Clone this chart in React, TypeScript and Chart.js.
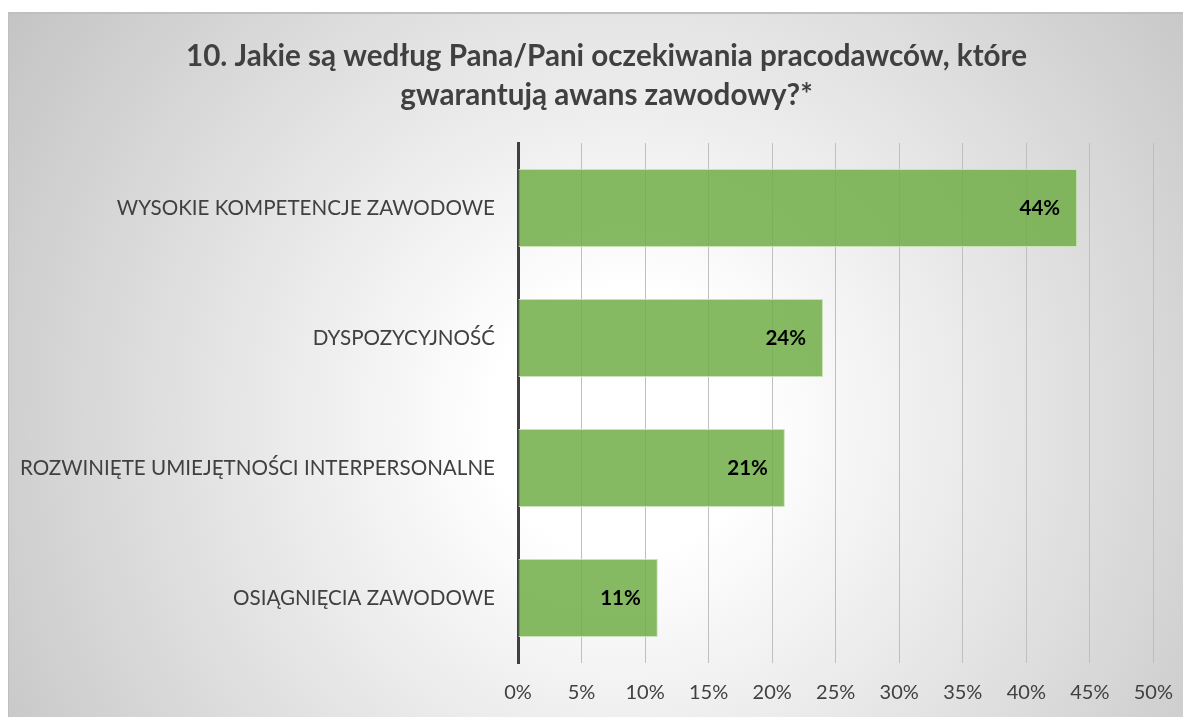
import React, { useEffect, useRef } from "react";
import { Chart, registerables } from "chart.js";

Chart.register(...registerables);

const categories = [
  "WYSOKIE KOMPETENCJE ZAWODOWE",
  "DYSPOZYCYJNOŚĆ",
  "ROZWINIĘTE UMIEJĘTNOŚCI INTERPERSONALNE",
  "OSIĄGNIĘCIA ZAWODOWE",
];
const values = [44, 24, 21, 11];
const titleLines = [
  "10. Jakie są według Pana/Pani oczekiwania pracodawców, które",
  "gwarantują awans zawodowy?*",
];
const xMin = 0;
const xMax = 50;
const xStep = 5;

const FONT = "Lato, 'Open Sans', sans-serif";

const titlePlugin = {
  id: "customTitle",
  afterDraw(chart: any) {
    const ctx = chart.ctx;
    ctx.save();
    ctx.font = `bold 29.6px ${FONT}`;
    ctx.fillStyle = "#404040";
    ctx.textAlign = "center";
    ctx.textBaseline = "middle";
    const cx = chart.width / 2 + 7;
    titleLines.forEach((line, i) => {
      ctx.fillText(line, cx, 44 + i * 39);
    });
    ctx.restore();
  },
};

const labelPlugin = {
  id: "barLabels",
  afterDatasetsDraw(chart: any) {
    const ctx = chart.ctx;
    const meta = chart.getDatasetMeta(0);
    ctx.save();
    ctx.font = `bold 20.5px ${FONT}`;
    ctx.fillStyle = "#000000";
    ctx.textAlign = "right";
    ctx.textBaseline = "middle";
    meta.data.forEach((bar: any, i: number) => {
      ctx.fillText(`${values[i]}%`, bar.x - 17, bar.y);
    });
    ctx.restore();
  },
};

export default function App() {
  const ref = useRef<HTMLCanvasElement | null>(null);
  useEffect(() => {
    if (!ref.current) return;
    const chart = new Chart(ref.current, {
      type: "bar",
      data: {
        labels: categories,
        datasets: [
          {
            data: values,
            backgroundColor: "rgba(112,173,71,0.85)",
            borderColor: "#c9e2b8",
            borderWidth: 1,
            barPercentage: 0.6,
            categoryPercentage: 1,
          },
        ],
      },
      options: {
        indexAxis: "y",
        animation: false,
        responsive: false,
        layout: { padding: { top: 131, bottom: 13, right: 35, left: 0 } },
        plugins: {
          legend: { display: false },
          tooltip: { enabled: false },
          title: { display: false },
        },
        scales: {
          x: {
            min: xMin,
            max: xMax,
            ticks: {
              stepSize: xStep,
              callback: (v: any) => `${v}%`,
              color: "#404040",
              font: { family: FONT, size: 20 },
              padding: 18,
            },
            grid: { color: "#bfbfbf", lineWidth: 1, drawTicks: false },
            border: { display: false },
          },
          y: {
            ticks: {
              color: "#404040",
              font: { family: FONT, size: 20.6 },
              padding: 23,
            },
            grid: { display: false, drawTicks: false },
            border: { color: "#404040", width: 3 },
            afterFit: (scale: any) => {
              scale.width = 510;
            },
          },
        },
      },
      plugins: [labelPlugin, titlePlugin],
    });
    return () => chart.destroy();
  }, []);

  return (
    <div
      style={{
        marginTop: 4,
        width: 1183,
        height: 705,
        boxSizing: "border-box",
        borderTop: "2px solid #bfbfbf",
        borderLeft: "1px solid #bfbfbf",
        background:
          "radial-gradient(circle farthest-corner at 52% 58%, #ffffff 18%, #c4c4c4 100%)",
        position: "relative",
        overflow: "hidden",
      }}
    >
      <canvas
        ref={ref}
        width={1183}
        height={724}
        style={{ position: "absolute", left: -1, top: -2, display: "block" }}
      />
    </div>
  );
}
